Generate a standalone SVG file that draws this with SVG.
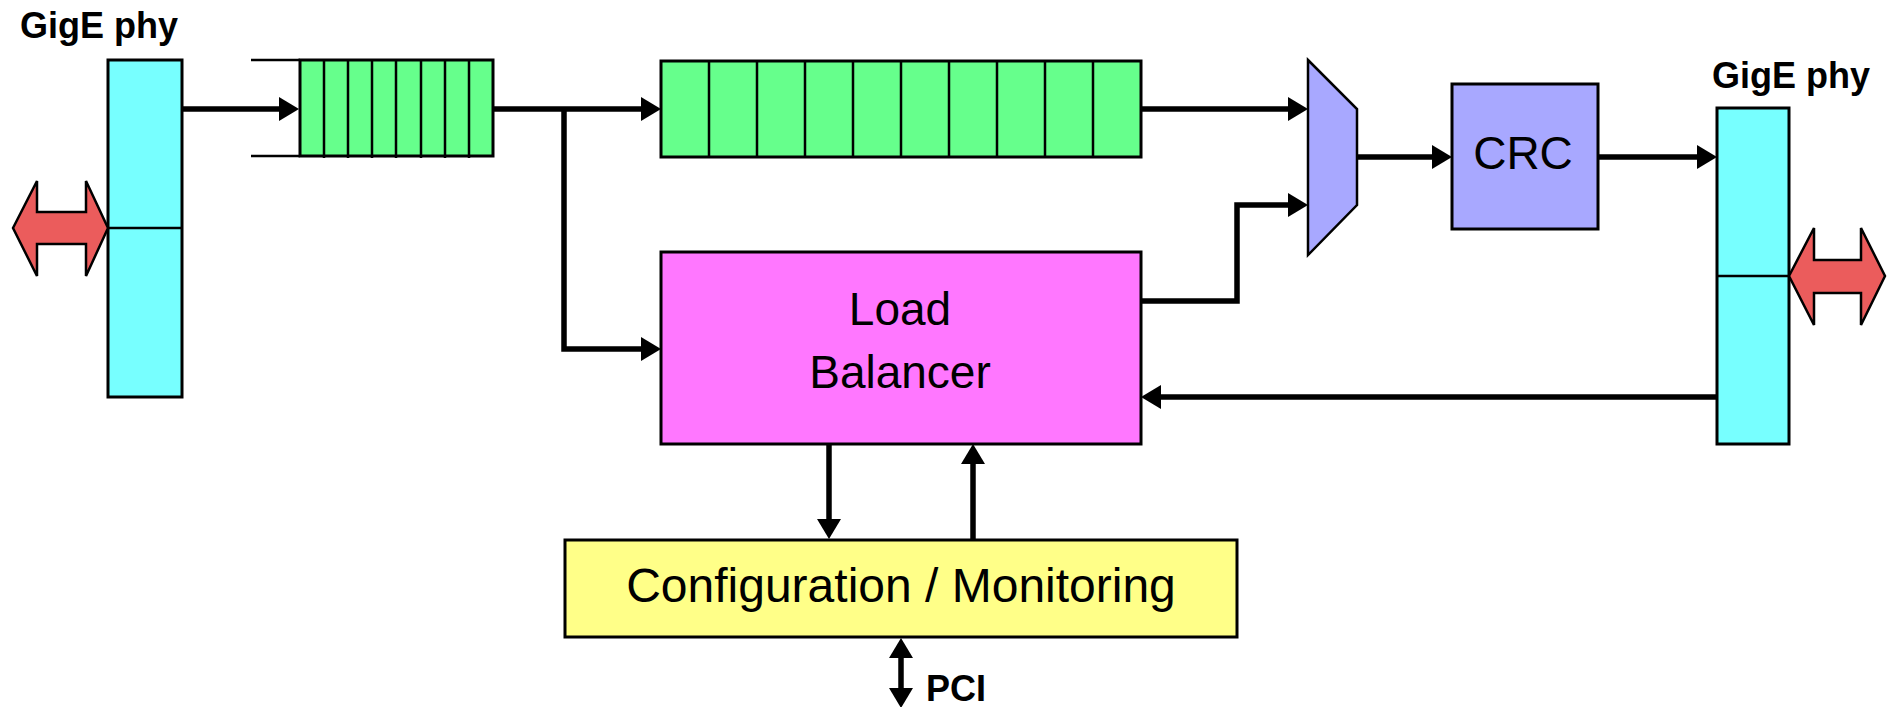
<svg xmlns="http://www.w3.org/2000/svg" width="1891" height="707" viewBox="0 0 1891 707">
<style>
.box{stroke:#000;stroke-width:3}
.phy{fill:#77FFFF}
.q{fill:#66FF8C}
.div{stroke:#000;stroke-width:2.5;fill:none}
.conn{stroke:#000;stroke-width:5.5;fill:none}
.big{fill:#EB5C5C;stroke:#000;stroke-width:2.5;stroke-linejoin:miter}
.t{font-family:"Liberation Sans",Arial,sans-serif;fill:#000}
.lbl{font-family:"Liberation Sans",Arial,sans-serif;font-weight:bold;font-size:36px;fill:#000}
</style>
<defs>
<marker id="ah" markerUnits="userSpaceOnUse" markerWidth="22" markerHeight="26" refX="10" refY="12" orient="auto-start-reverse">
<path d="M0,0 L20,12 L0,24 z" fill="#000"/>
</marker>
</defs>

<g id="phy-left">
<rect class="box phy" x="108" y="60" width="74" height="337"/>
<line class="div" x1="108" y1="228" x2="182" y2="228" stroke-width="3"/>
<polygon class="big" points="13,228 37,181 37,212 86,212 86,181 108,228 86,276 86,244 37,244 37,276"/>
<text class="lbl" x="20" y="38">GigE phy</text>
</g>

<g id="queue-in">
<rect class="box q" x="300" y="60" width="193" height="96"/>
<line class="div" x1="251" y1="60" x2="300" y2="60" stroke-width="3"/>
<line class="div" x1="251" y1="156" x2="300" y2="156" stroke-width="3"/>
<path class="div" d="M324,60V158 M348,60V158 M372,60V158 M396,60V158 M421,60V158 M445,60V158 M469,60V158"/>
</g>

<g id="queue-main">
<rect class="box q" x="661" y="61" width="480" height="96"/>
<path class="div" d="M709,61V158 M757,61V158 M805,61V158 M853,61V158 M901,61V158 M949,61V158 M997,61V158 M1045,61V158 M1093,61V158"/>
</g>

<g id="load-balancer">
<rect class="box" fill="#FF77FF" x="661" y="252" width="480" height="192"/>
<text class="t" font-size="46" text-anchor="middle" x="900" y="325">Load</text>
<text class="t" font-size="46" text-anchor="middle" x="900" y="388">Balancer</text>
</g>

<g id="mux">
<polygon fill="#A8A8FF" stroke="#000" stroke-width="2.5" points="1308,60 1357,109 1357,205 1308,255"/>
</g>

<g id="crc">
<rect class="box" fill="#A8A8FF" x="1452" y="84" width="146" height="145"/>
<text class="t" font-size="46" text-anchor="middle" x="1523" y="169">CRC</text>
</g>

<g id="phy-right">
<rect class="box phy" x="1717" y="108" width="72" height="336"/>
<line class="div" x1="1717" y1="276" x2="1789" y2="276" stroke-width="3"/>
<polygon class="big" points="1789,276 1814,228 1814,260 1861,260 1861,228 1885,276 1861,325 1861,293 1814,293 1814,325"/>
<text class="lbl" x="1712" y="88">GigE phy</text>
</g>

<g id="config">
<rect class="box" fill="#FFFF88" x="565" y="540" width="672" height="97"/>
<text class="t" font-size="48" text-anchor="middle" x="901" y="602">Configuration / Monitoring</text>
</g>

<g id="pci-label">
<text class="lbl" x="926" y="701" font-size="35">PCI</text>
</g>

<g id="connectors">
<path class="conn" marker-end="url(#ah)" d="M182,109 H289"/>
<path class="conn" marker-end="url(#ah)" d="M493,109 H651"/>
<path class="conn" marker-end="url(#ah)" d="M564,109 V349 H651"/>
<path class="conn" marker-end="url(#ah)" d="M1141,109 H1298"/>
<path class="conn" marker-end="url(#ah)" d="M1141,301 H1237 V205 H1298"/>
<path class="conn" marker-end="url(#ah)" d="M1357,157 H1442"/>
<path class="conn" marker-end="url(#ah)" d="M1598,157 H1707"/>
<path class="conn" marker-end="url(#ah)" d="M1717,397 H1151"/>
<path class="conn" marker-end="url(#ah)" d="M829,444 V529"/>
<path class="conn" marker-end="url(#ah)" d="M973,539 V454"/>
<path class="conn" marker-start="url(#ah)" marker-end="url(#ah)" d="M901,648 V698"/>
</g>
</svg>
